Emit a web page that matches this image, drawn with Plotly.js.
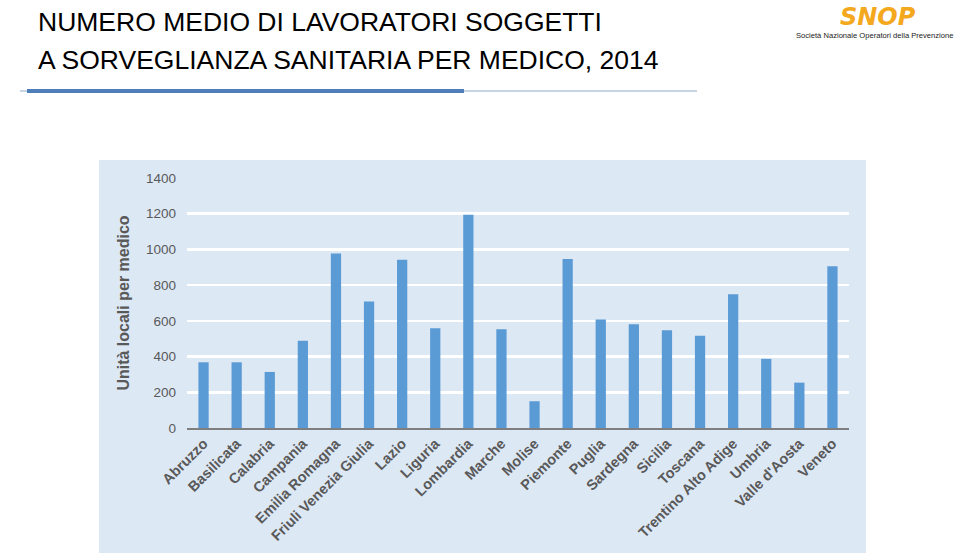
<!DOCTYPE html>
<html>
<head>
<meta charset="utf-8">
<script src="https://cdn.plot.ly/plotly-3.0.1.min.js"></script>
<style>html,body{margin:0;padding:0;background:#fff;}#chart{width:960px;height:558px;}</style>
</head>
<body>
<div id="chart"></div>
<script>
// Data
const regioni = ["Abruzzo","Basilicata","Calabria","Campania","Emilia Romagna","Friuli Venezia Giulia","Lazio","Liguria","Lombardia","Marche","Molise","Piemonte","Puglia","Sardegna","Sicilia","Toscana","Trentino Alto Adige","Umbria","Valle d'Aosta","Veneto"];
const unitaPerMedico = [368, 368, 314, 488, 977, 708, 942, 559, 1194, 553, 150, 947, 607, 581, 548, 516, 749, 387, 254, 906];
const yTicks = [0, 200, 400, 600, 800, 1000, 1200, 1400];

const titleLines = ["NUMERO MEDIO DI LAVORATORI SOGGETTI", "A SORVEGLIANZA SANITARIA PER MEDICO, 2014"];
const yTitle = "Unità locali per medico";
const logoName = "SNOP";
const logoSub = "Società Nazionale Operatori della Prevenzione";

// geometry helpers (pixel -> paper)
const W = 960, H = 558;
const M = {l: 187, r: 111, t: 178, b: 130};
const pw = W - M.l - M.r, ph = H - M.t - M.b;
const px = x => (x - M.l) / pw;
const py = y => (H - M.b - y) / ph;

const grey = "#595959";
const bg = "rgb(221,232,245)";

const trace = {
  type: "bar",
  x: regioni,
  y: unitaPerMedico,
  marker: {color: "#5b9bd5"},
  hoverinfo: "x+y"
};

const titleFont = {family: "Liberation Sans, Arial, sans-serif", size: 26.5, color: "#000000"};

const layout = {
  width: W, height: H,
  margin: M,
  paper_bgcolor: "#ffffff",
  plot_bgcolor: bg,
  showlegend: false,
  bargap: 0.69,
  font: {family: "Liberation Sans, Arial, sans-serif", color: grey},
  xaxis: {
    type: "category",
    tickangle: -45,
    tickfont: {size: 14.5, color: grey, family: "Liberation Sans, Arial, sans-serif", weight: "bold"},
    showline: true, linecolor: "#7f7f7f", linewidth: 1.5,
    showgrid: false, ticks: "", automargin: false
  },
  yaxis: {
    range: [0, 1400],
    tickvals: yTicks,
    tickfont: {size: 13.5, color: grey},
    showgrid: true, gridcolor: "#ffffff", gridwidth: 2.5,
    zeroline: false, showline: false, ticks: "",
    ticklabelstandoff: 10,
    automargin: false,
    title: {text: yTitle, standoff: 12, font: {size: 16, color: grey, weight: "bold"}}
  },
  shapes: [
    {type: "rect", xref: "paper", yref: "paper", layer: "below",
     x0: px(99), x1: px(866), y0: py(553), y1: py(160),
     fillcolor: bg, line: {width: 0}},
    {type: "line", xref: "paper", yref: "paper",
     x0: px(20), x1: px(697), y0: py(91), y1: py(91),
     line: {color: "#8faacb", width: 1}},
    {type: "line", xref: "paper", yref: "paper",
     x0: px(27), x1: px(464), y0: py(91), y1: py(91),
     line: {color: "#4f7fb8", width: 4}}
  ],
  annotations: [
    {text: titleLines[0], xref: "paper", yref: "paper",
     x: px(36), y: py(22), xanchor: "left", yanchor: "middle", showarrow: false, font: titleFont},
    {text: titleLines[1], xref: "paper", yref: "paper",
     x: px(36), y: py(60), xanchor: "left", yanchor: "middle", showarrow: false, font: titleFont},
    {text: "<i><b>" + logoName + "</b></i>", xref: "paper", yref: "paper",
     x: px(878), y: py(17), xanchor: "center", yanchor: "middle", showarrow: false,
     font: {family: "DejaVu Sans, sans-serif", size: 24, color: "#f4a81d"}},
    {text: logoSub, xref: "paper", yref: "paper",
     x: px(955), y: py(36), xanchor: "right", yanchor: "middle", showarrow: false,
     font: {family: "Liberation Sans, Arial, sans-serif", size: 7.6, color: "#222222"}}
  ]
};

Plotly.newPlot("chart", [trace], layout, {displayModeBar: false, staticPlot: true});
</script>
</body>
</html>
